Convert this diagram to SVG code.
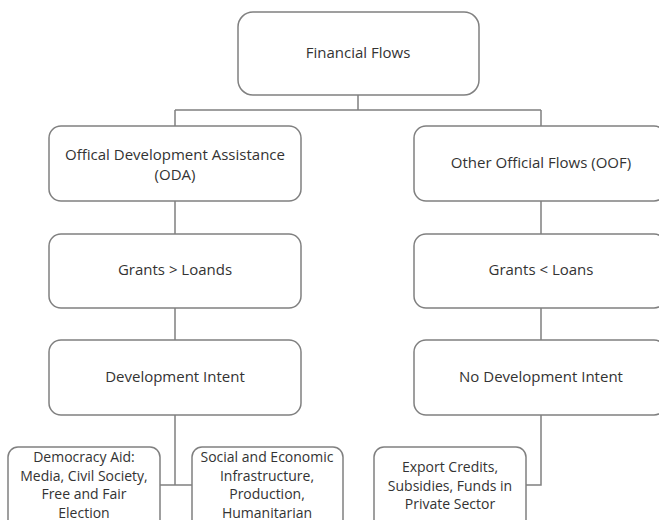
<svg xmlns="http://www.w3.org/2000/svg" width="659" height="520" viewBox="0 0 659 520">
<style>
.box{fill:#ffffff;stroke:#808080;stroke-width:1.5}
.ln{fill:none;stroke:#808080;stroke-width:1.5}
text{font-family:"Open Sans",Lato,"Liberation Sans",sans-serif;font-size:15px;fill:#333333;text-anchor:middle}
.sm text{font-size:14px}
</style>
<rect width="659" height="520" fill="#ffffff"/>
<g id="connectors">
<path class="ln" d="M358 95V110M175 110H541M175 110V126M541 110V126"/>
<path class="ln" d="M175 201V234M175 308V340M175 415V485M160 485H192"/>
<path class="ln" d="M541 201V234M541 308V340M541 415V485H526"/>
</g>
<g id="n_ff"><rect class="box" x="238" y="12" width="241" height="83" rx="15"/><text x="358" y="58">Financial Flows</text></g>
<g id="n_oda"><rect class="box" x="49" y="126" width="252" height="75" rx="12"/><text x="175" y="160">Offical Development Assistance</text><text x="175" y="180">(ODA)</text></g>
<g id="n_oof"><rect class="box" x="414" y="126" width="252" height="75" rx="12"/><text x="541" y="168">Other Official Flows (OOF)</text></g>
<g id="n_gl1"><rect class="box" x="49" y="234" width="252" height="74" rx="12"/><text x="175" y="275">Grants &gt; Loands</text></g>
<g id="n_gl2"><rect class="box" x="414" y="234" width="252" height="74" rx="12"/><text x="541" y="275">Grants &lt; Loans</text></g>
<g id="n_di"><rect class="box" x="49" y="340" width="252" height="75" rx="12"/><text x="175" y="382">Development Intent</text></g>
<g id="n_ndi"><rect class="box" x="414" y="340" width="252" height="75" rx="12"/><text x="541" y="382">No Development Intent</text></g>
<g id="n_dem" class="sm"><rect class="box" x="8" y="447" width="152" height="85" rx="10"/><text x="84" y="462">Democracy Aid:</text><text x="84" y="480.5">Media, Civil Society,</text><text x="84" y="499">Free and Fair</text><text x="84" y="517.5">Election</text></g>
<g id="n_soc" class="sm"><rect class="box" x="192" y="447" width="151" height="85" rx="10"/><text x="267" y="462">Social and Economic</text><text x="267" y="480.5">Infrastructure,</text><text x="267" y="499">Production,</text><text x="267" y="517.5">Humanitarian</text></g>
<g id="n_exp" class="sm"><rect class="box" x="374" y="447" width="152" height="85" rx="10"/><text x="450" y="472">Export Credits,</text><text x="450" y="490.5">Subsidies, Funds in</text><text x="450" y="509">Private Sector</text></g>
</svg>
